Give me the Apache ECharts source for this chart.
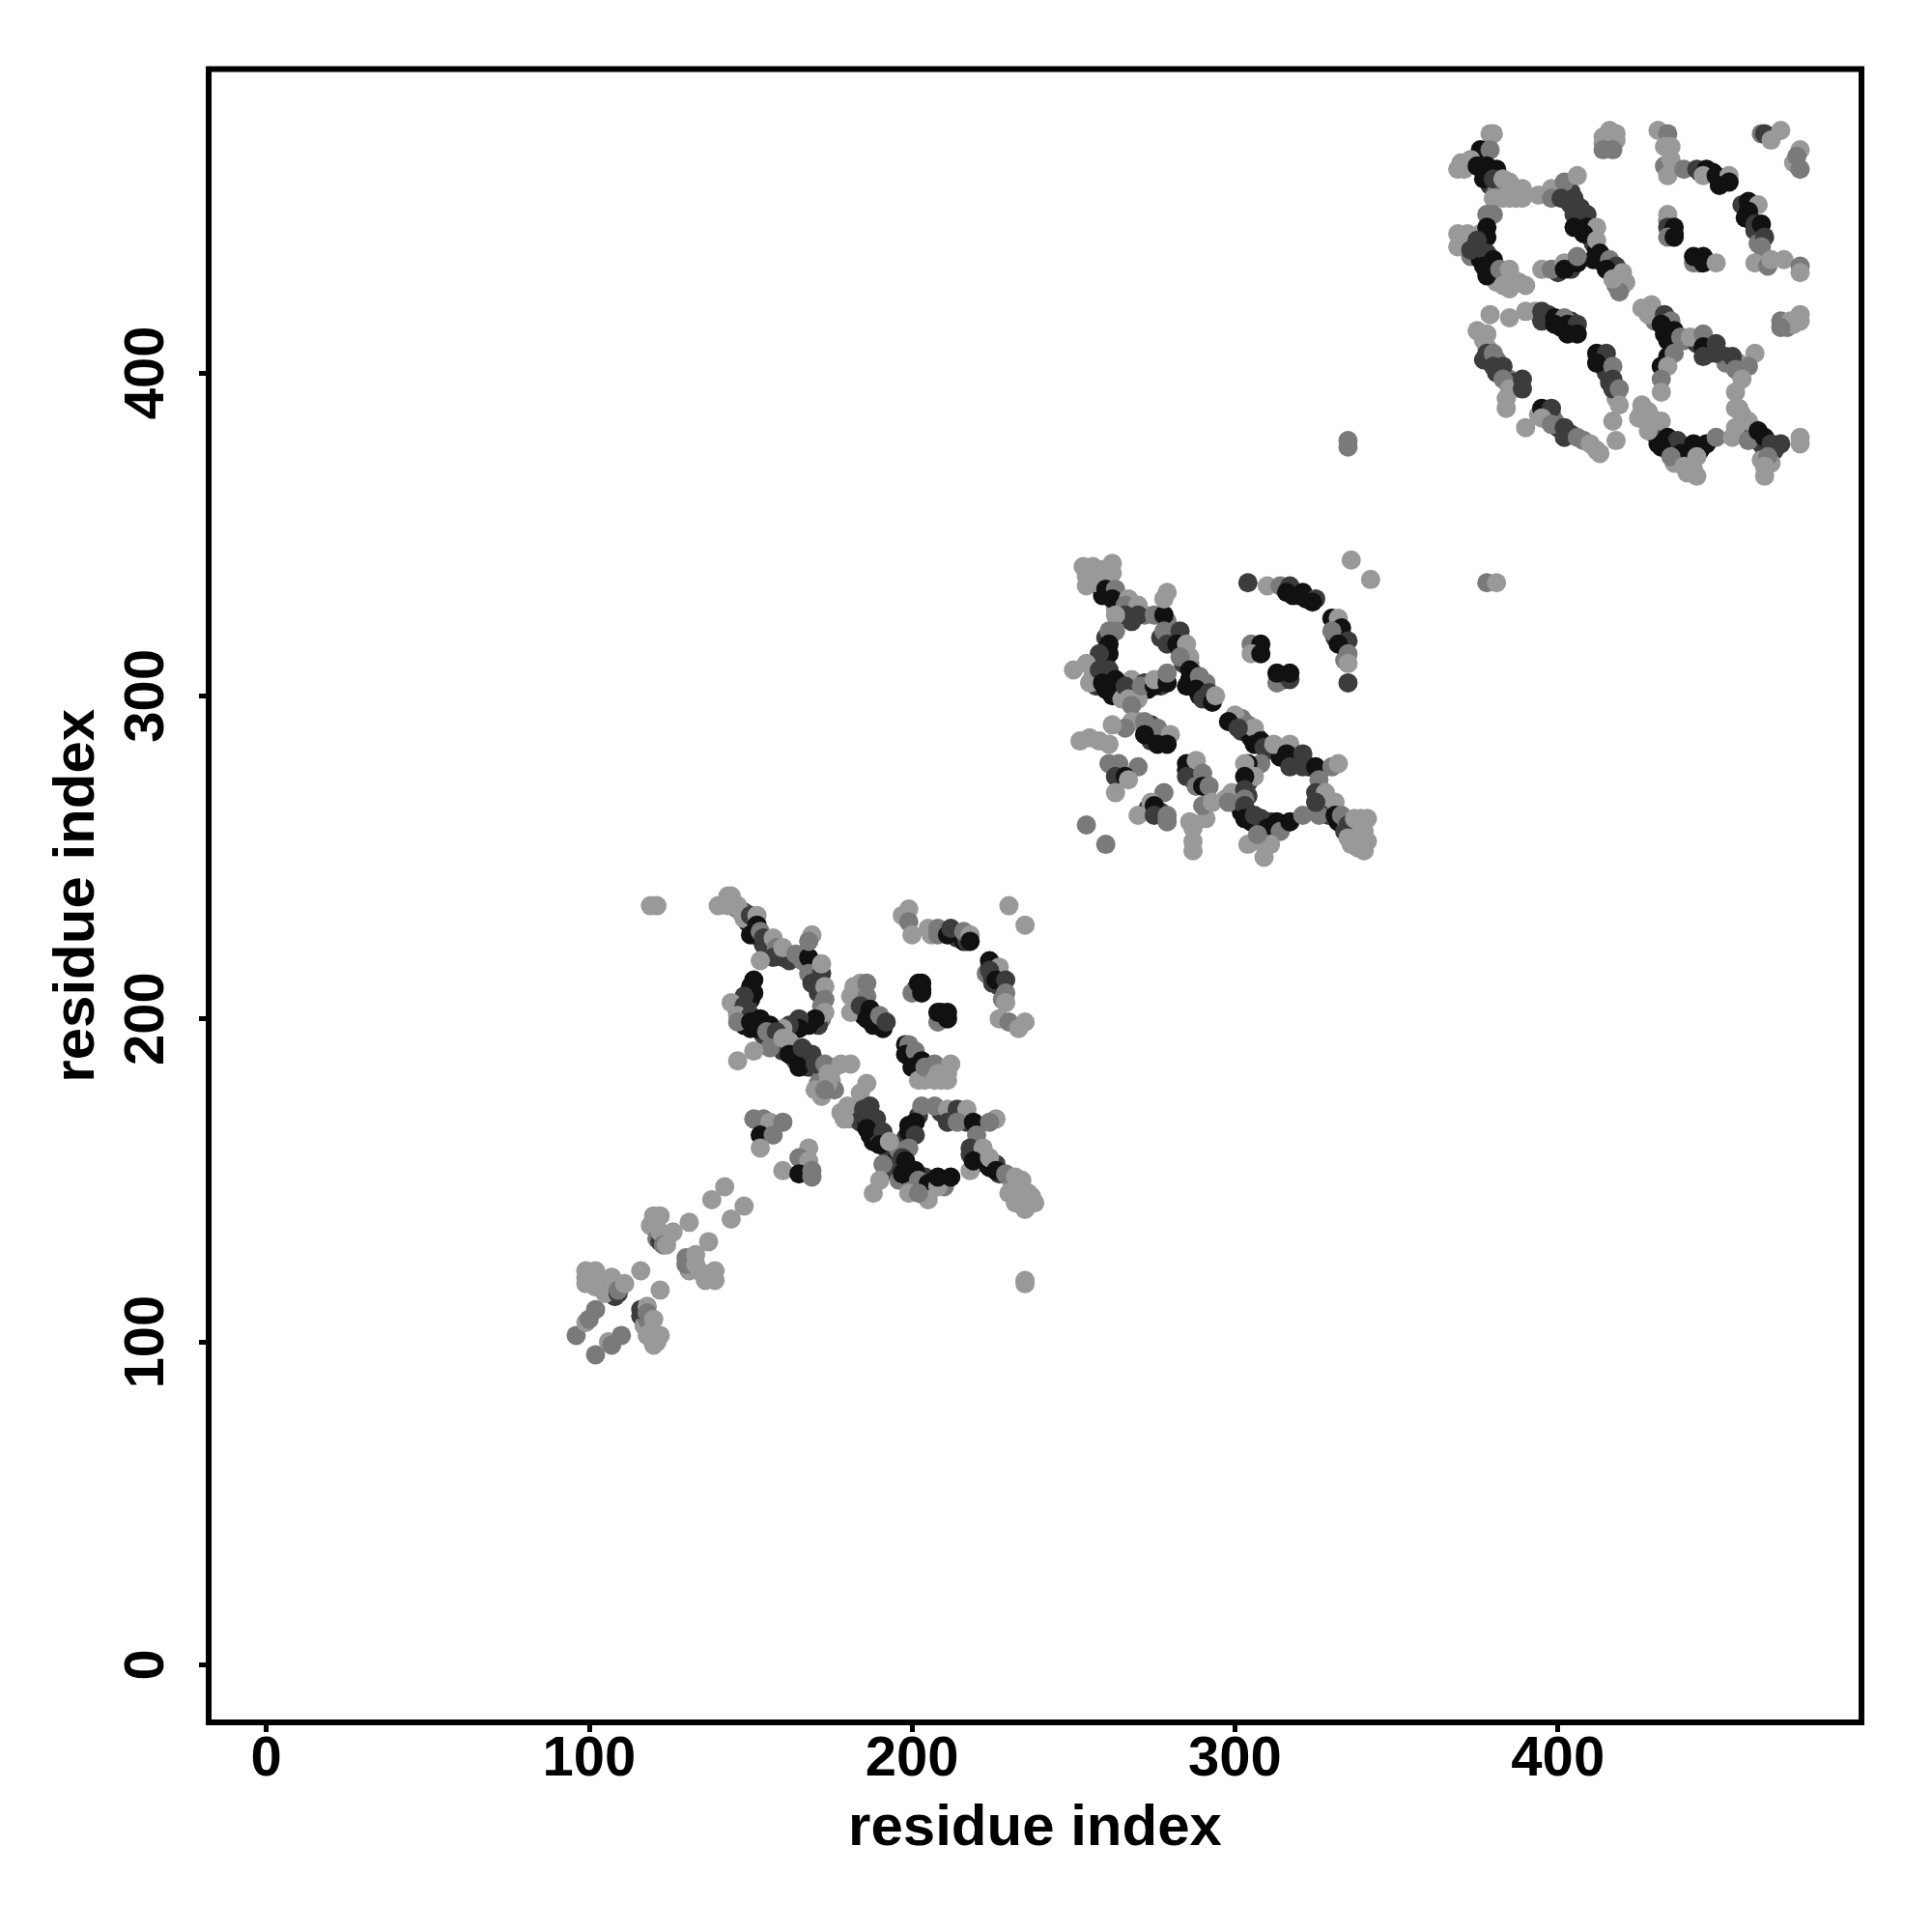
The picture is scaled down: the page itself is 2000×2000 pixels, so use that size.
<!DOCTYPE html>
<html><head><meta charset="utf-8">
<style>html,body{margin:0;padding:0;background:#fff}#c{width:2000px;height:2000px}</style>
<script src="https://cdn.jsdelivr.net/npm/echarts@6/dist/echarts.min.js"></script>
</head><body><div id="c"></div>
<script>
const tickValues=[0,100,200,300,400];
const axisTitle='residue index';
const shades=['','#999999','#7a7a7a','#3c3c3c','#111111'];
// [residue i, residue j, shade level]
const under=[[99,118,1],[101,118,1],[104,118,1],[105,117,1],[107,117,3],[108,114,3],[105,115,1],[116,108,3],[117,105,1],[118,107,2],[119,103,1],[120,102,1],[119,136,1],[121,132,2],[123,132,2],[124,132,1],[122,131,3],[130,126,2],[131,122,1],[134,122,1],[136,119,1],
[146,234,3],[148,233,3],[149,230,4],[150,229,4],[151,228,4],[153,225,3],[154,223,3],[155,221,3],[156,220,3],[158,220,2],[162,218,3],[166,218,2],
[170,217,3],[170,214,3],[170,211,3],[171,208,3],[172,204,2],[172,200,2],[171,198,3],[168,198,4],[163,197,3],
[150,210,4],[150,206,4],[149,204,3],[147,203,3],[146,202,3],[147,200,4],[148,198,4],[150,197,4],[154,197,4],[154,195,3],[157,194,3],[158,192,2],[160,190,3],[163,189,4],[164,187,3],[167,187,3],[168,185,3],[171,184,3],[172,182,2],[171,180,2],[175,181,1],[176,185,1],[172,176,1],[176,178,2],
[183,207,2],[184,202,3],[185,201,4],[186,202,3],[187,200,4],[188,198,4],[190,199,3],[184,209,1],
[199,190,4],[200,188,4],[201,187,3],[202,186,4],[202,184,3],[205,183,2],[204,181,1],[209,181,1],
[201,209,4],[203,209,4],[209,200,4],[209,202,4],
[206,226,1],[209,227,3],[210,227,3],[213,226,4],[214,225,3],[216,224,4],[217,224,3],[224,216,3],[223,214,2],[225,213,4],[225,211,3],[227,214,2],[227,210,3],[228,206,2],
[180,171,1],[181,169,1],[183,172,3],[184,170,3],[184,168,3],[186,168,4],[188,167,4],[187,164,4],[188,162,4],[190,163,3],[192,160,3],[193,158,3],[194,157,3],[195,156,4],[195,154,3],[194,153,3],[196,150,2],
[198,153,4],[199,151,4],[200,150,3],[200,148,2],[203,149,4],[204,151,3],[206,148,3],[207,150,4],[210,150,4],[210,148,2],[202,170,3],[199,167,4],[198,163,3],[197,160,3],[196,159,2],[209,171,3],[212,170,3],[216,169,2],[217,168,3],[220,167,3],[220,161,3],[218,158,3],[220,157,3],[221,156,4],[223,155,4],[224,154,4],[226,155,3],[227,152,3],[230,151,2],[231,149,1],[234,150,1],[236,146,1],[237,145,1],[234,148,1],[230,146,1],[232,143,1],[235,141,1],
[255,338,1],[256,336,1],[258,336,1],[260,337,1],[258,334,2],[259,331,4],[261,331,4],[264,328,3],[265,326,3],[268,327,2],[263,327,1],[272,325,2],[268,323,3],
[279,323,2],[277,318,3],[280,318,3],[281,319,3],[283,314,3],[284,310,3],[286,310,2],[287,307,4],[285,303,4],[288,304,3],[290,303,3],[289,300,4],[292,299,3],
[260,318,3],[260,314,4],[260,310,3],[258,306,3],[256,306,1],[257,303,3],[261,302,4],[262,300,4],[264,303,4],[268,301,3],[268,305,1],[265,299,1],[270,301,1],[272,304,3],[273,302,4],[277,305,3],[277,303,3],
[274,291,3],[274,289,3],[277,288,3],[274,286,3],[278,286,4],[270,292,1],
[264,277,3],[285,277,4],[288,278,3],[287,274,3],[290,274,3],[273,265,3],[277,264,3],
[302,293,2],[300,292,4],[302,289,3],[304,289,4],[306,288,3],[307,287,4],[305,287,4],[310,283,3],[314,283,2],[314,281,4],[318,280,3],[319,279,3],[323,278,4],[326,276,2],[306,278,3],[305,276,3],[304,273,3],[304,269,3],[302,264,4],[304,263,4],[305,261,4],[307,260,4],[309,261,3],[311,261,3],[311,257,2],[315,260,3],[306,255,1],
[326,268,3],[327,266,2],[329,265,1],[329,263,3],[332,261,4],[334,258,3],[336,259,1],[338,256,1],[338,253,1],[334,262,1],[339,262,1],
[316,333,3],[318,331,4],[322,330,4],[331,322,3],[331,318,3],[333,319,4],[334,315,3],[334,311,2],
[306,315,4],[307,314,4],[314,306,4],[315,305,4],
[371,463,1],[372,464,1],[374,465,2],[375,466,4],[376,467,4],[377,462,4],[379,461,4],[379,458,3],[381,458,3],[382,457,1],[384,457,1],[385,454,1],[387,454,1],[381,456,2],
[404,456,3],[404,452,3],[407,451,3],[406,447,4],[408,447,4],[410,442,3],[411,440,3],[412,438,4],[413,435,4],[414,434,3],[416,433,3],[417,431,3],[419,429,2],[420,427,1],[418,427,2],
[376,443,1],[377,441,3],[374,440,3],[375,437,3],[373,436,2],[376,435,4],[378,434,4],[378,432,4],[380,433,4],[380,430,3],[382,430,1],[383,429,1],[388,428,1],[381,428,1],
[400,431,3],[404,432,3],[404,434,3],[414,471,1],[416,470,2],[418,472,1],
[444,462,3],[448,462,4],[451,459,3],[457,452,3],[460,451,3],[458,448,4],[460,447,4],[461,444,3],[462,440,2],
[434,447,2],[436,443,4],[444,434,3],[471,414,2],[473,415,1],
[397,418,3],[400,416,4],[401,414,4],[404,416,3],[404,414,3],
[377,410,1],[377,404,3],[381,404,2],[381,400,3],[385,398,2],[386,397,3],[387,396,1],[384,392,1],
[394,387,1],[396,387,2],[398,387,3],[399,385,2],[400,383,3],[404,381,3],[408,379,2],[412,376,1],
[413,404,4],[414,403,4],[414,402,3],[415,400,3],[416,397,3],[418,392,1],
[430,418,1],[430,416,2],[433,414,3],[433,412,4],[435,412,4],[436,409,3],[439,410,2],[443,409,3],[447,408,3],[447,406,3],[452,405,3],[452,403,2],[456,403,1],
[426,388,1],[428,388,1],[429,386,1],[430,384,1],[430,381,3],[431,378,4],[433,378,4],[434,376,3],[436,376,4],[440,375,4],[441,377,4],[444,376,4],[436,372,1],[441,372,1],[442,370,1],
[457,387,1],[458,382,1],[460,383,3],[460,381,3],[462,379,4],[463,378,3],[464,376,3],[467,376,3],[463,373,1],[466,372,1]];
const stem=[[96,102,2],[102,96,2],[99,106,1],[100,107,2],[102,110,2],[106,100,1],[107,99,2],[110,102,2],
[99,122,1],[102,122,1],[99,120,1],[102,120,1],[102,117,1],[109,115,3],[107,120,1],[109,116,2],[111,118,1],[116,122,1],[122,116,1],
[116,110,3],[118,111,1],[118,109,2],[120,107,1],[118,102,1],[122,102,1],[120,99,1],[121,100,1],
[120,139,1],[122,139,1],[120,137,1],[122,134,1],[123,130,2],[124,130,1],[126,134,1],[131,137,1],[137,131,1],
[130,124,2],[133,127,1],[133,124,1],[136,121,1],[139,122,1],[139,119,1],[138,144,1],[142,148,1],[144,138,1],[148,142,1],
[119,235,1],[121,235,1],[235,118,1],[235,119,1]];
const blockA=[[143,238,1],[144,238,1],[140,235,1],[143,235,1],[146,235,1],[147,233,1],[148,231,1],[150,232,3],[152,232,1],
[150,226,4],[152,229,4],[153,227,2],[154,225,3],[157,225,1],[158,222,2],[157,219,3],[160,219,3],[160,222,1],[164,220,2],[153,218,1],[168,219,4],[169,226,1],[168,224,2],
[168,214,2],[169,211,3],[172,214,3],[172,217,1],[173,210,1],[173,206,2],[173,202,1],[170,200,4],[165,200,3],[165,197,4],[162,198,3],[160,197,1],
[151,212,4],[151,208,4],[148,207,3],[144,205,1],[148,204,3],[146,201,1],[150,201,3],[146,199,2],[150,199,4],[153,200,4],[152,197,4],[156,198,4],[155,196,2],[158,196,3],
[156,191,2],[151,190,1],[146,187,1],[160,194,1],[162,193,1],[162,189,4],[165,189,4],[166,191,3],[169,189,3],[165,185,4],[170,186,3],[173,186,2],[178,186,1],[181,186,1],[174,183,1],[174,179,2],[170,178,1],[174,180,1],[173,178,2],
[184,211,1],[182,210,1],[186,211,2],[181,207,1],[186,207,2],[181,202,1],[184,204,3],[187,203,4],[186,200,4],[189,199,4],[191,197,4],[190,201,2],[192,199,3],
[198,192,4],[199,192,2],[198,189,4],[201,190,2],[203,187,4],[200,185,4],[202,181,1],[204,185,2],[207,186,2],[212,186,1],[207,181,1],[211,181,1],[208,183,1],[211,183,1],
[200,208,2],[203,208,4],[202,211,4],[203,211,4],[208,199,2],[211,200,4],[208,202,4],[211,202,4],
[197,232,1],[199,234,1],[199,230,2],[200,226,1],[205,228,1],[208,228,2],[208,226,2],[211,226,4],[212,228,3],[216,227,2],[218,226,1],[218,224,4],[230,235,1],[235,229,1],
[224,218,4],[227,216,1],[224,215,3],[226,212,4],[229,212,3],[229,208,2],[229,205,1],[227,200,1],[230,199,2],[233,197,1],[235,199,1]];
const blockB=[[186,180,1],[184,177,1],[180,173,1],[178,171,1],[179,169,1],[185,172,3],[187,173,3],[186,169,3],[189,169,3],[186,166,4],[191,165,3],[190,161,4],[193,162,1],[191,155,2],
[203,173,2],[207,173,2],[211,172,1],[214,172,3],[217,172,1],[211,168,3],[214,168,2],[219,168,4],[226,169,1],[224,168,2],[201,168,4],[199,165,4],[201,164,3],[220,164,2],[218,160,3],[222,160,1],
[199,160,2],[197,157,3],[198,156,4],[197,152,4],[201,153,4],[202,150,2],[205,149,4],[208,148,1],[208,151,4],[212,151,4],[205,144,1],[199,146,1],[202,146,2],
[218,153,1],[219,156,4],[224,157,1],[226,153,4],[229,152,2],[232,151,1],[233,148,1],[235,146,1],[232,146,1],[236,143,1],[238,143,1],[234,143,1],[190,150,1],[188,146,1],
[151,169,2],[154,169,2],[156,168,1],[160,168,2],[153,164,4],[157,164,2],[153,160,1],[168,160,1],[165,157,2],[168,156,1],[160,153,1],[165,152,4],[169,153,2],[169,151,2]];
const blockC=[[253,340,1],[256,340,1],[254,337,1],[262,341,1],[262,338,1],[259,339,1],[254,334,1],[257,335,1],
[260,333,4],[263,333,2],[262,330,4],[267,330,1],[266,328,2],[270,328,1],[266,325,3],[270,325,3],[263,325,1],[275,325,2],[278,325,4],[279,332,1],[278,330,1],
[278,320,2],[283,320,3],[279,316,3],[282,316,4],[285,316,1],[286,312,1],[283,312,2],[286,308,4],[286,305,4],[289,306,2],[291,304,2],[288,302,4],[292,301,3],[290,299,3],[293,298,4],[294,300,1],
[263,320,2],[261,320,2],[261,316,4],[261,313,4],[258,313,3],[254,310,1],[250,308,1],[255,304,1],[258,308,3],[261,308,3],[259,304,4],[260,302,4],[263,305,4],[266,303,3],
[267,299,1],[270,299,1],[268,297,2],[271,303,2],[275,303,4],[275,305,1],[279,304,4],[279,307,2],
[268,292,1],[266,290,2],[262,291,1],[272,292,2],[276,290,2],[272,288,4],[280,288,1],[276,285,4],[279,285,4],
[252,286,1],[255,287,1],[258,286,1],[261,285,1],
[261,279,2],[264,279,2],[270,278,2],[263,275,3],[266,275,4],[267,274,1],[263,270,1],[278,270,2],[274,267,1],[275,266,4],[270,263,1],[275,263,3],[279,263,2],[279,261,2],[254,260,2],[260,254,2],
[285,279,4],[288,280,1],[285,275,3],[290,276,2],[288,272,2],[290,272,4],[292,272,2],
[286,261,1],[287,259,1],[287,255,1],[287,252,1],[291,262,1],[290,266,2],[293,267,1],[297,268,1],[299,270,1],[298,267,2],
[304,335,3],[310,334,1],[314,334,2],[317,334,3],[316,332,4],[321,332,4],[320,331,4],[325,330,3],[324,329,4],[336,342,1],[342,336,1],
[330,324,4],[332,324,1],[333,321,4],[330,320,2],[335,317,3],[332,316,4],[335,313,2],[335,310,1],[335,304,3],
[305,316,2],[308,316,4],[305,313,1],[308,313,4],[313,304,2],[317,305,3],[313,307,4],[317,307,4],
[300,294,1],[298,292,4],[304,291,2],[306,290,1],[301,290,3],[308,286,4],[306,285,4],[309,284,3],[312,285,1],[317,285,1],[316,282,4],[321,282,3],[317,278,3],[321,278,3],[325,278,4],[330,278,2],[332,279,1],[326,274,2],
[308,279,2],[304,279,4],[303,279,1],[306,275,1],[303,275,4],[303,271,3],[303,268,2],[303,266,3],[303,262,4],[306,263,3],[308,262,3],[310,259,4],[313,261,4],[314,258,2],[317,261,4],[321,263,2],
[304,254,1],[309,254,1],[311,254,1],[309,250,1],[307,257,2],
[325,270,3],[328,270,1],[331,267,1],[326,263,2],[325,267,3],[331,263,4],[333,263,2],[335,260,3],[337,262,1],[341,262,1],[339,260,1],[336,254,1],[340,252,1],[341,255,1],[335,256,1],[340,258,1]];
const blockD=[[380,474,1],[379,474,1],[376,469,4],[379,469,2],[370,465,1],[369,463,1],[373,466,1],[375,464,4],[378,464,4],[381,463,4],[377,460,4],[380,460,3],[383,460,1],[385,459,1],[389,457,1],[386,456,1],[383,454,1],[380,454,1],[389,454,1],
[394,455,1],[398,457,1],[398,454,2],[402,459,2],[406,461,1],[401,454,3],[405,454,3],[405,449,3],[409,449,3],[405,445,4],[409,445,4],[412,445,1],[408,443,4],[412,441,1],[413,437,4],[411,435,4],[416,435,2],[418,433,3],[415,432,4],[420,431,1],[421,428,1],[419,425,2],[417,429,1],
[380,449,2],[378,449,2],[378,445,4],[378,442,4],[369,443,1],[369,439,1],[372,443,1],[375,441,3],[373,438,3],[378,437,3],[380,435,4],[377,433,4],[378,430,4],[382,432,2],[385,432,1],[383,427,1],[386,429,1],[390,427,1],[385,426,1],
[395,432,1],[398,432,2],[402,434,1],[402,432,4],[406,434,4],[406,436,2],
[414,473,1],[416,475,1],[418,474,1],[416,472,1],[414,469,2],[417,469,2],
[431,475,1],[434,474,2],[433,470,1],[435,470,1],[433,464,2],[435,466,1],[434,461,1],[439,463,2],[443,463,3],[446,463,4],[445,461,1],[449,461,4],[453,461,1],[450,458,4],[453,459,4],
[463,474,2],[464,474,3],[469,475,1],[466,472,1],[475,469,1],[473,465,1],[475,463,2],[474,467,2],
[459,453,4],[462,452,1],[459,450,4],[461,446,3],[463,446,4],[464,442,3],[463,439,2],[461,434,1],[465,433,2],[466,435,1],[470,435,1],[475,433,2],[475,431,1],
[434,449,1],[434,445,3],[436,445,4],[434,442,2],[436,442,4],[442,434,2],[442,436,4],[445,436,4],[445,434,4],[449,434,1],
[469,416,2],[472,416,1],[475,418,1],[475,416,1],[469,414,2],
[379,418,1],[385,417,1],[390,419,1],[393,419,1],[395,419,3],[395,416,3],[399,417,4],[402,417,2],[399,415,4],[403,415,4],[406,415,3],[406,412,4],[403,412,4],
[375,413,1],[378,412,1],[378,408,1],[378,406,3],[380,406,2],[380,402,3],[383,402,3],[383,398,2],[385,395,1],[386,395,1],[389,398,3],[389,395,3],[384,389,1],
[395,389,4],[398,389,3],[390,383,1],[395,386,1],[398,384,2],[402,383,3],[402,380,3],[406,380,2],[410,378,1],[413,375,1],
[412,406,4],[415,406,3],[412,403,4],[417,402,2],[417,398,3],[417,395,3],[419,395,2],[419,390,1],[417,385,1],[418,379,1],
[426,420,1],[429,421,1],[428,418,1],[433,418,3],[435,416,2],[432,415,4],[436,413,4],[434,410,4],[438,411,2],[441,411,1],[445,412,2],[445,408,4],[449,409,3],[449,406,3],[445,405,3],[454,405,3],[461,406,1],[459,402,2],[455,401,2],[457,398,1],
[434,405,4],[436,406,2],[432,402,4],[434,402,1],[432,398,2],[432,394,1],[455,394,1],
[426,390,1],[425,386,1],[432,385,1],[428,384,1],[428,382,1],[434,380,4],[437,379,3],[432,377,4],[438,375,4],[442,378,4],[446,378,4],[443,374,1],[449,380,2],[435,374,2],[439,371,1],[440,369,1],[443,368,1],
[455,389,1],[456,389,1],[455,383,1],[459,385,1],[454,380,1],[459,379,2],[462,382,4],[464,380,4],[466,378,3],[469,378,3],[475,380,1],[475,378,1],[465,374,2],[464,371,1],[464,368,1],
[378,335,2],[381,335,1],[335,379,2],[335,377,2]];
const points=[...under,...stem,...blockA,...blockB,...blockC,...blockD];
const chart=echarts.init(document.getElementById('c'),null,{renderer:'canvas'});
const font='"Liberation Sans", Arial, sans-serif';
const axisCommon={type:'value',min:-17.8,max:494,name:axisTitle,nameLocation:'middle',
 nameTextStyle:{fontFamily:font,fontWeight:'bold',fontSize:60,color:'#000'},
 axisLine:{show:false,onZero:false},splitLine:{show:false},
 axisTick:{show:true,length:10,lineStyle:{color:'#000',width:5},customValues:tickValues}};
chart.setOption({animation:false,backgroundColor:'#fff',
 grid:{left:216,right:73,top:71.5,bottom:217,show:true,borderColor:'#000',borderWidth:6,backgroundColor:'transparent'},
 xAxis:{...axisCommon,nameGap:80,axisLabel:{customValues:tickValues,fontFamily:font,fontWeight:'bold',fontSize:58,color:'#000',margin:10}},
 yAxis:{...axisCommon,nameGap:106,axisLabel:{customValues:tickValues,fontFamily:font,fontWeight:'bold',fontSize:58,color:'#000',rotate:90,margin:34}},
 series:[{type:'scatter',data:points,symbol:'circle',symbolSize:20,clip:false,
  itemStyle:{opacity:1,color:p=>shades[p.value[2]]}}]});
</script></body></html>
